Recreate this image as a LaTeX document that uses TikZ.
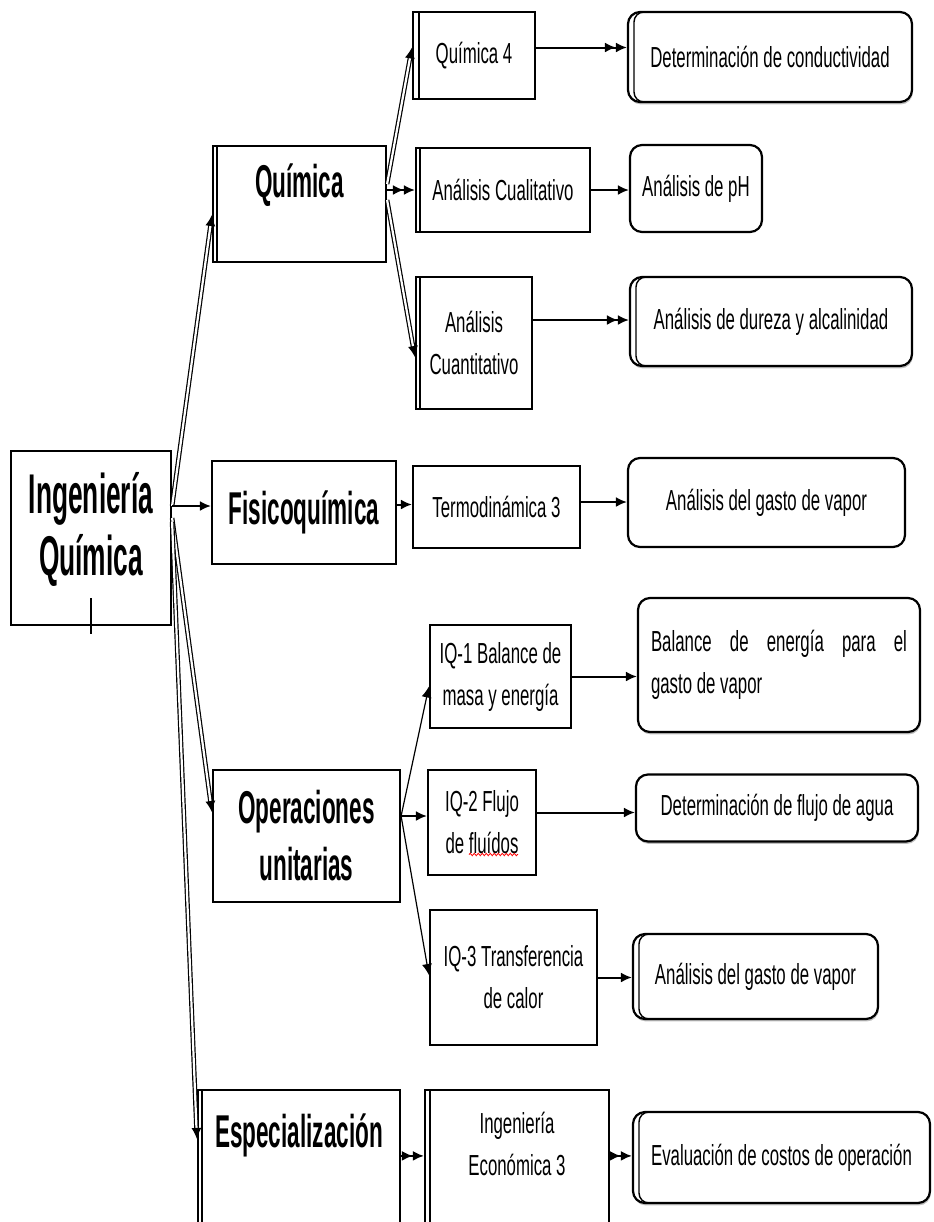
\documentclass[tikz,border=0pt]{standalone}
\usepackage{fontspec}
\setmainfont[FakeStretch=0.58]{Liberation Sans}
\newfontfamily\headfont[FakeStretch=0.49]{Liberation Sans}
\newfontfamily\rootfont[FakeStretch=0.47]{Liberation Sans}
\usetikzlibrary{arrows.meta,shadows,decorations.pathmorphing}

\begin{document}
\begin{tikzpicture}[
  x=0.5pt, y=-0.5pt,
  rootbox/.style={rectangle, draw, line width=1.1pt, fill=white, inner sep=2pt,
                  align=center, text width=75pt,
                  font=\rootfont\bfseries\fontsize{28}{31}\selectfont},
  area/.style={rectangle, draw, line width=1.1pt, fill=white, inner sep=2pt,
               align=center, font=\headfont\bfseries\fontsize{23}{28.5}\selectfont},
  course/.style={rectangle, draw, line width=1.1pt, fill=white, inner sep=2pt,
                 align=center, font=\fontsize{14.5}{21}\selectfont},
  task/.style={course, rounded corners=6pt},
  lift/.style={drop shadow={shadow xshift=0.4pt, shadow yshift=-1.2pt, fill=black!50}},
  dbl/.style={path picture={\draw[line width=0.7pt]
      ([xshift=#1]path picture bounding box.north west) --
      ([xshift=#1]path picture bounding box.south west);}},
  dblround/.style={path picture={\draw[line width=0.7pt, rounded corners=5pt]
      ([xshift=9pt]path picture bounding box.north west) --
      ([xshift=#1]path picture bounding box.north west) --
      ([xshift=#1]path picture bounding box.south west) --
      ([xshift=9pt]path picture bounding box.south west);}},
  link/.style={-{Latex[length=5.5pt,width=5pt]}, line width=1pt},
  thinlink/.style={-{Latex[length=5.5pt,width=5pt]}, line width=0.6pt},
  link2/.style={-{Latex[length=5.5pt,width=5pt] Latex[length=5.5pt,width=5pt]}, line width=1pt},
  twin/.style={-{Latex[length=5.5pt,width=5pt]}, double, double distance=1.1pt, line width=0.6pt},
  spell/.style={red, line width=0.4pt, decorate,
                decoration={snake, amplitude=0.6pt, segment length=2pt}},
]
  \useasboundingbox (0,0) rectangle (933,1222);

  % -- Root --
  \node[rootbox, minimum width=80pt, minimum height=87pt, text height=24pt, text depth=49pt]
    (ing) at (91,538) {Ingeniería\\Química};

  % -- Areas --
  \node[area, dbl=2pt, minimum width=86.5pt, minimum height=58pt, text height=20pt, text depth=27pt]
    (quim) at (299.5,204) {Química};
  \node[area, minimum width=92pt, minimum height=51.5pt] (fisq) at (304,512.5) {Fisicoquímica};
  \node[area, minimum width=93.5pt, minimum height=66pt] (opun) at (306.5,836) {Operaciones\\unitarias};
  \node[area, dbl=2pt, minimum width=101pt, minimum height=95pt, text height=20pt, text depth=58pt]
    (espe) at (299,1185) {Especialización};

  % -- Courses --
  \node[course, dbl=3pt, minimum width=61pt, minimum height=43.5pt] (quim4) at (474,55.5) {Química 4};
  \node[course, dbl=2pt, minimum width=87pt, minimum height=42pt] (acual) at (503,190) {Análisis Cualitativo};
  \node[course, dbl=2pt, minimum width=58pt, minimum height=66pt] (acuan) at (474,343) {Análisis\\Cuantitativo};
  \node[course, minimum width=83.5pt, minimum height=41pt] (termo) at (496.5,507) {Termodinámica 3};
  \node[course, minimum width=70.5pt, minimum height=51.5pt] (iq1) at (500.5,676.5) {IQ-1 Balance de\\masa y energía};
  \node[course, minimum width=54pt, minimum height=52.5pt] (iq2) at (482,822.5) {IQ-2 Flujo\\de fluídos};
  \node[course, minimum width=83.5pt, minimum height=67.5pt] (iq3) at (513.5,977.5) {IQ-3 Transferencia\\de calor};
  \node[course, dbl=2.5pt, minimum width=92pt, minimum height=95pt,
        text height=12pt, text depth=22pt] (ieco) at (517,1185) {Ingeniería\\Económica 3};

  % -- Practical work --
  \node[task, lift, dblround=3pt, minimum width=142pt, minimum height=45pt] (cond) at (770,57) {Determinación de conductividad};
  \node[task, minimum width=66pt, minimum height=43.5pt] (ph) at (696,188.5) {Análisis de pH};
  \node[task, lift, dblround=3pt, minimum width=141pt, minimum height=44.5pt] (dureza) at (771,321.5) {Análisis de dureza y alcalinidad};
  \node[task, minimum width=138.5pt, minimum height=44.5pt] (gvap1) at (766.5,502.5) {Análisis del gasto de vapor};
  \node[task, lift, minimum width=141pt, minimum height=67pt, text width=128pt, align=justify]
    (benerg) at (779,665) {Balance de energía para el\linebreak gasto de vapor};
  \node[task, lift, minimum width=141pt, minimum height=33.5pt] (flujo) at (777,808) {Determinación de flujo de agua};
  \node[task, lift, dblround=3pt, minimum width=122.5pt, minimum height=42.5pt] (gvap2) at (755.5,976.5) {Análisis del gasto de vapor};
  \node[task, lift, dblround=3pt, minimum width=148.5pt, minimum height=45.5pt] (costos) at (781.5,1157.5) {Evaluación de costos de operación};

  % Connections
  \draw[twin] ([yshift=16pt]ing.east) -- ([yshift=-5.5pt]quim.west);
  \draw[link] ([yshift=16pt]ing.east) -- ([yshift=16pt]ing.east -| fisq.west);
  \draw[twin] ([yshift=10pt]ing.east) -- ([yshift=12pt]opun.west);
  \draw[twin] ([yshift=8pt]ing.east) -- ([yshift=-25pt]espe.north west);

  \draw[twin] ([yshift=10pt]quim.east) -- ([yshift=4pt]quim4.west);
  \draw[link2] ([yshift=7pt]quim.east) -- (acual.west);
  \draw[twin] ([yshift=2pt]quim.east) -- ([yshift=-7pt]acuan.west);
  \draw[link] ([yshift=4pt]fisq.east) -- ([yshift=4pt]fisq.east -| termo.west);
  \draw[thinlink] ([yshift=10pt]opun.east) -- ([yshift=-5pt]iq1.west);
  \draw[link] ([yshift=10pt]opun.east) -- ([yshift=10pt]opun.east -| iq2.west);
  \draw[thinlink] ([yshift=10pt]opun.east) -- ([yshift=1.25pt]iq3.west);
  \draw[link2] ([yshift=-33.5pt]espe.north east) -- ([yshift=-33.5pt]espe.north east -| ieco.west);

  \draw[link2] ([yshift=4pt]quim4.east) -- ([yshift=4pt]quim4.east -| cond.west);
  \draw[link] (acual.east) -- (acual.east -| ph.west);
  \draw[link2] ([yshift=11.5pt]acuan.east) -- ([yshift=11.5pt]acuan.east -| dureza.west);
  \draw[link] ([yshift=2.5pt]termo.east) -- ([yshift=2.5pt]termo.east -| gvap1.west);
  \draw[link] (iq1.east) -- (iq1.east -| benerg.west);
  \draw[link] ([yshift=5pt]iq2.east) -- ([yshift=5pt]iq2.east -| flujo.west);
  \draw[link] (iq3.east) -- (iq3.east -| gvap2.west);
  \draw[link2] ([yshift=-33.5pt]ieco.north east) -- ([yshift=-33.5pt]ieco.north east -| costos.west);

  % spelling mark under "fluídos"
  \draw[spell] ([xshift=-6.5pt,yshift=-16pt]iq2.center) -- ([xshift=18pt,yshift=-16pt]iq2.center);

  % cursor mark in root box
  \draw[line width=0.6pt] ([yshift=14pt]ing.south) -- ([yshift=-4pt]ing.south);
\end{tikzpicture}
\end{document}
